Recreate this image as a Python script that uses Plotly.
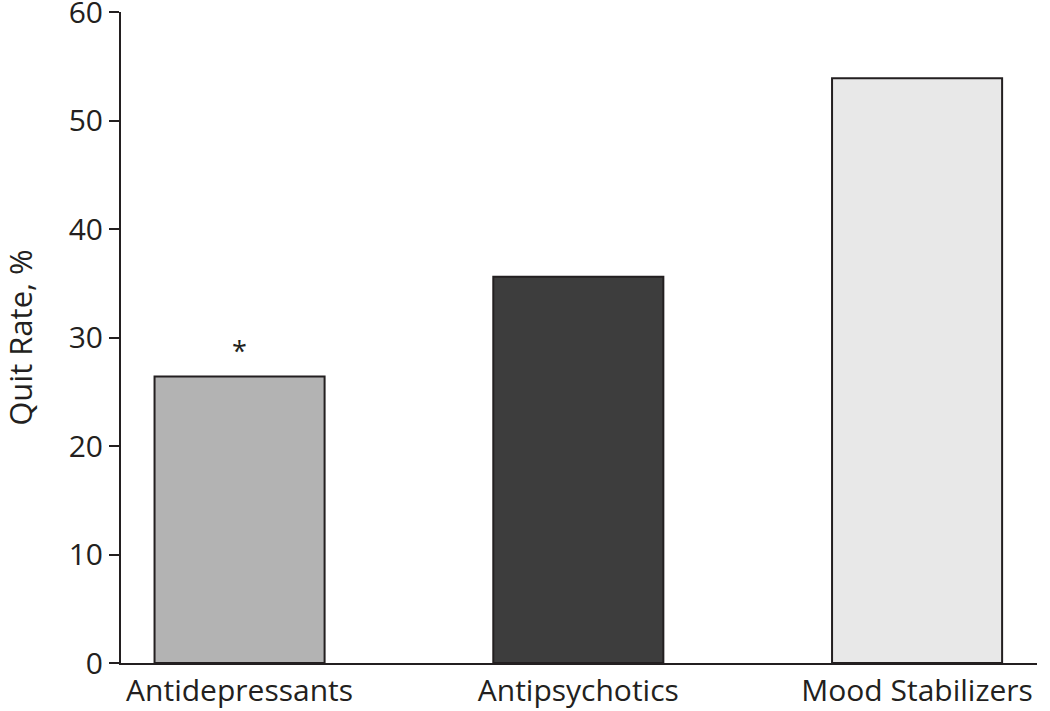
import plotly.graph_objects as go

categories = ["Antidepressants", "Antipsychotics", "Mood Stabilizers"]
quit_rate = [26.4, 35.6, 53.9]
bar_colors = ["#b3b3b3", "#3d3d3d", "#e8e8e8"]
y_ticks = [0, 10, 20, 30, 40, 50, 60]
y_title = "Quit Rate, %"

fig = go.Figure()
fig.add_trace(go.Bar(
    x=categories, y=quit_rate,
    marker=dict(color=bar_colors, line=dict(color="#231f20", width=2)),
    width=0.502,
))

fig.add_annotation(x=categories[0], y=quit_rate[0], text="*", showarrow=False,
                   yshift=26, font=dict(size=27, color="#231f20", family="Open Sans"))

# y-axis title placed as rotated annotation
fig.add_annotation(xref="paper", yref="paper", x=-0.111, y=0.5, text=y_title,
                   textangle=-90, showarrow=False, xanchor="center", yanchor="middle",
                   font=dict(size=31, color="#231f20", family="Open Sans"))

fig.update_layout(
    width=1050, height=711,
    margin=dict(l=121, r=13, t=12, b=48, autoexpand=False),
    plot_bgcolor="white", paper_bgcolor="white",
    showlegend=False,
    font=dict(family="Open Sans", size=30, color="#231f20"),
)
fig.update_xaxes(
    range=[-0.35, 2.354], showline=True, linecolor="#231f20", linewidth=2,
    ticks="", showgrid=False, tickfont=dict(size=30), automargin=False,
)
fig.update_yaxes(
    range=[0, 60], tickvals=y_ticks, showline=True, linecolor="#231f20", linewidth=2,
    ticks="outside", ticklen=10, tickwidth=2, tickcolor="#231f20",
    showgrid=False, zeroline=False, tickfont=dict(size=30), automargin=False,
    ticklabeloverflow="allow",
)

fig.write_html("out.html", config={"displayModeBar": False},
               post_script="document.body.style.margin='0';")
